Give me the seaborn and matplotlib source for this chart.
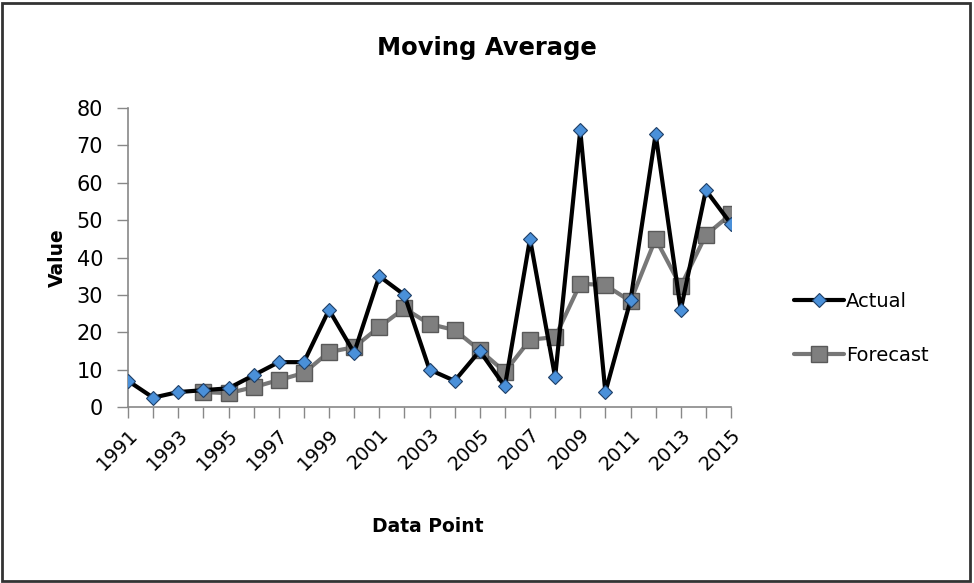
import matplotlib
matplotlib.use("Agg")
import matplotlib.pyplot as plt
import seaborn as sns
import numpy as np
import pandas as pd
from matplotlib.patches import Rectangle

years = list(range(1991, 2016))
actual = [7, 2.5, 4, 4.5, 5, 8.5, 12, 12, 26, 14.5, 35, 30, 10, 7, 15,
          5.5, 45, 8, 74, 4, 28.5, 73, 26, 58, 49]
forecast_years = list(range(1994, 2016))
forecast = [4, 3.7, 5.3, 7.2, 9.1, 14.7, 16, 21.4, 26.4, 22.2, 20.6, 15.2,
            9.4, 18, 18.7, 33, 32.6, 28.3, 45, 32.3, 46, 51.6]
yticks = list(range(0, 81, 10))

sns.set_theme(style="white")
plt.rcParams['font.family'] = ['DejaVu Sans']
plt.rcParams['text.color'] = 'black'
plt.rcParams['xtick.color'] = '#888888'
plt.rcParams['ytick.color'] = '#888888'
plt.rcParams['xtick.labelcolor'] = 'black'
plt.rcParams['ytick.labelcolor'] = 'black'

df_a = pd.DataFrame({"year": years, "value": actual})
df_f = pd.DataFrame({"year": forecast_years, "value": forecast})

fig = plt.figure(figsize=(9.74, 5.83), dpi=100)
ax = fig.add_axes([128/974, 1-407/583, (731-128)/974, (407-108)/583])

sns.lineplot(data=df_a, x="year", y="value", ax=ax, color="black", lw=3,
             marker="D", markersize=7, markerfacecolor="#4A90D9",
             markeredgecolor="#1F3F66", markeredgewidth=0.8, label="Actual", zorder=3)
sns.lineplot(data=df_f, x="year", y="value", ax=ax, color="#777777", lw=3,
             marker="s", markersize=12, markerfacecolor="#7F7F7F",
             markeredgecolor="#595959", markeredgewidth=1, label="Forecast", zorder=2)

ax.set_xlim(1991, 2015)
ax.set_ylim(0, 80)
ax.set_yticks(yticks)
ax.set_yticklabels([str(v) for v in yticks], fontsize=15)
ax.set_xticks(years)
ax.set_xticklabels([str(y) if (y - 1991) % 2 == 0 else "" for y in years],
                   rotation=45, ha="right", rotation_mode="anchor", fontsize=14)
ax.tick_params(axis="both", direction="out", length=8, width=1,
               bottom=True, left=True)
ax.tick_params(axis="y", pad=10)
ax.tick_params(axis="x", pad=5)
for s in ["top", "right"]:
    ax.spines[s].set_visible(False)
for s in ["left", "bottom"]:
    ax.spines[s].set_color("#888888")
    ax.spines[s].set_linewidth(1.2)

ax.set_xlabel("")
ax.set_ylabel("")
fig.text(487/974, 1-48/583, "Moving Average", ha="center", va="center",
         fontsize=17.5, fontweight="bold")
fig.text(428/974, 1-527/583, "Data Point", ha="center", va="center",
         fontsize=13.5, fontweight="bold")
fig.text(57/974, 1-258/583, "Value", ha="center", va="center",
         fontsize=13.5, fontweight="bold", rotation=90)

leg = ax.legend(loc="center left", bbox_to_anchor=(784/974, 1-328/583),
                bbox_transform=fig.transFigure, frameon=False, fontsize=14,
                handlelength=2.6, handletextpad=0.1, labelspacing=1.8,
                borderpad=0)

fig.patches.append(Rectangle((2/974, 2/583), 968/974, 578/583, transform=fig.transFigure,
                             fill=False, edgecolor="#333333", lw=2))

fig.savefig("out.png", dpi=100)
